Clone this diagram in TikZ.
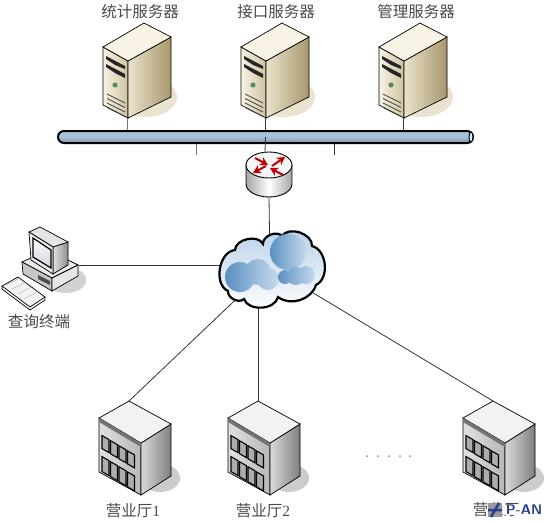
\documentclass[tikz,border=0pt]{standalone}
\usepackage{fontspec}
\setmainfont{Liberation Serif}
\newfontfamily\cjk{Noto Sans CJK SC}
\usetikzlibrary{arrows.meta, positioning}
\definecolor{creamtop}{HTML}{F8F3E4}
\definecolor{creamlow}{HTML}{C9BC98}
\definecolor{tan}{HTML}{A8976C}
\definecolor{shadowtan}{HTML}{E9E3CF}
\definecolor{busblue}{HTML}{9DB9D6}
\definecolor{cloudblue}{HTML}{5F97CB}
\definecolor{wirecol}{HTML}{333333}
\definecolor{textcol}{HTML}{4A4A4A}
\definecolor{panblue}{HTML}{2A3F8F}
\begin{document}
\begin{tikzpicture}[
    x=1pt, y=-1pt,
    label/.style={font=\fontsize{15.5}{15.5}\selectfont, text=textcol, inner sep=0pt},
    wire/.style={draw=wirecol, line width=0.8pt},
    redarrow/.style={-{Stealth[length=8pt, width=9pt]}, red!75!black, line width=2pt},
    puff/.style={left color=cloudblue!95!black, right color=cloudblue!35},
    bus/.style={rectangle, draw, rounded corners=6pt, minimum width=415pt, minimum height=12pt,
        inner sep=0pt, line width=2pt, top color=busblue!85, bottom color=busblue!80!black, middle color=busblue!90},
    server/.pic={
        \fill[shadowtan] (17,-21) ellipse (32 and 20);
        \draw[line width=0.7pt, left color=creamtop, right color=creamlow!90] (-25,-71) -- (0,-57) -- (0,0) -- (-25,-13) -- cycle;
        \draw[line width=0.7pt, left color=creamtop!70!creamlow, right color=tan] (0,-57) -- (43,-81) -- (43,-21) -- (0,0) -- cycle;
        \draw[line width=0.7pt, fill=creamtop] (-25,-71) -- (16,-95) -- (43,-81) -- (0,-57) -- cycle;
        \fill[black!85] (-22,-62) -- (-3,-52) -- (-3,-49) -- (-13,-53) -- (-22,-59) -- cycle;
        \fill[black!85] (-22,-54) -- (-3,-44) -- (-3,-40) -- (-13,-45) -- (-22,-51) -- cycle;
        \draw[fill=green!45!black!70, draw=black!60, line width=0.5pt] (-13,-33) circle (2.2);
        \foreach \dy in {0,4.5,9,13.5}
            \draw[black!75, line width=0.7pt] (-21,-24+\dy) -- (-3,-15+\dy);
        \coordinate (-base) at (-1,0);
    },
    building/.pic={
        \fill[black!20] (19,-17) ellipse (20 and 14);
        \draw[line width=0.7pt, left color=black!12, right color=black!28] (-42,-77) -- (0,-52) -- (0,0) -- (-42,-23) -- cycle;
        \draw[line width=0.7pt, left color=black!15, right color=black!50] (0,-52) -- (30,-71) -- (30,-19) -- (0,0) -- cycle;
        \draw[line width=0.7pt, fill=black!5] (-42,-77) -- (-12,-94) -- (30,-71) -- (0,-52) -- cycle;
        \fill[black!55] (-42,-77) -- (0,-52) -- (0,-48) -- (-42,-73) -- cycle;
        \foreach \wx in {-39,-30.5,-22,-13.5} {
            \draw[fill=black!32, line width=1.1pt] (\wx,\wx*0.6-36) -- (\wx+7,\wx*0.6-32) -- (\wx+7,\wx*0.6-19) -- (\wx,\wx*0.6-23) -- cycle;
            \draw[fill=black!32, line width=1.1pt] (\wx,\wx*0.6-15) -- (\wx+7,\wx*0.6-11) -- (\wx+7,\wx*0.6+4) -- (\wx,\wx*0.6) -- cycle;
        }
        \coordinate (-top) at (-12,-94);
    },
    router/.pic={
        \draw[line width=0.9pt, left color=black!35, right color=black!35, middle color=white] (-23,0) -- (-23,19) arc[start angle=180, end angle=360, x radius=23, y radius=-13] -- (23,0) -- cycle;
        \draw[line width=0.9pt, fill=black!4] (0,0) ellipse (23 and 13);
        \draw[redarrow] (3,1) -- (16,-8);
        \draw[redarrow] (-3,1) -- (-16,8);
        \draw[redarrow] (-14,-7) -- (-1,0);
        \draw[redarrow] (14,10) -- (1,3);
        \coordinate (-top) at (-4,-13);
        \coordinate (-bottom) at (0,32);
    },
    terminal/.pic={
        \fill[black!18] (66,280) ellipse (20 and 13);
        % case
        \draw[line width=0.7pt, fill=black!8] (22,262) -- (52,278) -- (78,265) -- (48,250) -- cycle;
        \draw[line width=0.7pt, fill=black!22] (22,262) -- (52,278) -- (52,291) -- (23,274) -- cycle;
        \draw[line width=0.7pt, fill=black!10] (52,278) -- (78,265) -- (78,276) -- (52,291) -- cycle;
        \draw[fill=black!70, draw=none] (38,275) -- (50,281) -- (50,285) -- (38,279) -- cycle;
        % monitor
        \draw[line width=0.7pt, left color=black!12, right color=black!45] (53,247) -- (68,242) -- (68,265) -- (53,274) -- cycle;
        \draw[line width=0.7pt, fill=black!10] (29,232) -- (40,227) -- (68,242) -- (53,247) -- cycle;
        \draw[line width=0.7pt, fill=black!8] (29,232) -- (53,247) -- (53,274) -- (31,260) -- cycle;
        \draw[line width=1.2pt, top color=white, bottom color=blue!18!black!18] (33,238) -- (51,250) -- (51,268) -- (33,257) -- cycle;
        % keyboard
        \draw[line width=0.7pt, fill=black!5] (2,286) -- (18,277) -- (45,297) -- (30,307) -- cycle;
        \draw[black!35, line width=0.3pt] (6,285) -- (20,278) (12,289) -- (27,282) (18,294) -- (33,286) (24,299) -- (39,291);
        \draw[line width=0.7pt] (2,286) -- (2,289) -- (30,310) -- (45,300) -- (45,297);
        \coordinate (-port) at (79,265);
    }
]
\useasboundingbox (0,0) rectangle (545,522);
% Servers
\pic (S1) at (128,118) {server};
\pic (S2) at (266,118) {server};
\pic (S3) at (404,118) {server};
\node[label] (L1) at (140,12) {\cjk 统计服务器};
\node[label] (L2) at (276,12) {\cjk 接口服务器};
\node[label] (L3) at (416,12) {\cjk 管理服务器};
% Bus
\node[bus] (bus) at (265.5,137) {};
\draw[line width=1pt, fill=busblue!30] ([xshift=-3pt]bus.east) ellipse (2 and 5);
\coordinate (T1) at (196,155);
\coordinate (T2) at (334,155);
\draw[wire, black!55] (S1-base) -- (S1-base |- bus.north);
\draw[wire] (S2-base) -- (S2-base |- bus.north);
\draw[wire] (S3-base) -- (S3-base |- bus.north);
\draw[wire, black!55] (T1) -- (T1 |- bus.south);
\draw[wire] (T2) -- (T2 |- bus.south);
% Router
\pic (R) at (269,165) {router};
\draw[wire] (bus.center) -- (R-top);
% Terminal and halls
\pic (PC) at (0,0) {terminal};
\node[label] (L4) at (39,322) {\cjk 查询终端};
\pic (B1) at (141,495) {building};
\pic (B2) at (270,495) {building};
\pic (B3) at (505,495) {building};
\node[label] (L5) at (133,511) {{\cjk 营业厅}1};
\node[label] (L6) at (263,511) {{\cjk 营业厅}2};
\node[label] (L7) at (496,510) {\cjk 营业厅};
% Connections to the cloud
\node[inner sep=0pt] (net) at (270,267) {};
\draw[wire] (R-bottom) -- (net.center);
\draw[wire] (PC-port) -- (PC-port -| net.center);
\draw[wire] (net.center) -- (B1-top);
\draw[wire] (B2-top |- net.center) -- (B2-top);
\draw[wire] (net.center) -- (B3-top);
% Cloud
\draw[line width=2.2pt, top color=cloudblue!45, bottom color=white]
    (228,291) to[bend left=75] (235,250) to[bend left=75] (263,244)
    to[bend left=70] (282,236) to[bend left=75] (312,246)
    to[bend left=70] (316,285) to[bend left=55] (278,297)
    to[bend left=75] (244,299) to[bend left=70] cycle;
\path[puff] (240,277) circle (15) (258,272) circle (13) (268,279) circle (11);
\path[puff] (288,252) circle (18) (298,248) circle (9);
\path[puff] (296,276) circle (9) (285,277) circle (7) (306,275) circle (9);
% Dots
\foreach \dx in {367,378,389,400,410}
    \fill[black!45] (\dx,456) circle (1);
% Mark
\node[fill=black!40, minimum width=14pt, minimum height=14pt, inner sep=0pt] (mark) at (495,510) {};
\draw[panblue, line width=2.5pt] (491,517) -- (499,503) (488,510) -- (502,510);
\node[fill=white, font=\sffamily\bfseries\fontsize{14}{14}\selectfont, text=panblue, inner sep=0.5pt, right=3pt of mark] (pan) {P-AN};
\end{tikzpicture}
\end{document}
